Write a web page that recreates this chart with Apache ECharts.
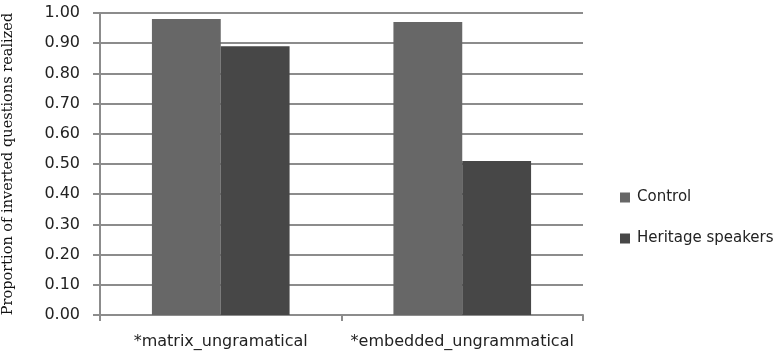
<!DOCTYPE html>
<html>
<head>
<meta charset="utf-8">
<script src="https://cdn.jsdelivr.net/npm/echarts@6/dist/echarts.min.js"></script>
<style>
  html, body { margin: 0; padding: 0; background: #fff; }
  #chart { width: 778px; height: 358px; }
</style>
</head>
<body>
<div id="chart"></div>
<script>
// Conditions on the x axis
const categories = ['*matrix_ungramatical', '*embedded_ungrammatical'];
// Proportion of inverted questions realized, per group
const controlValues = [0.98, 0.97];
const heritageValues = [0.89, 0.51];
const seriesNames = ['Control', 'Heritage speakers'];

const chart = echarts.init(document.getElementById('chart'), null, { renderer: 'canvas' });

const labelFont = '"DejaVu Sans", Verdana, sans-serif';
const gridGrey = '#8c8c8c';

chart.setOption({
  animation: false,
  backgroundColor: '#ffffff',
  grid: {
    left: 100, right: 195, top: 13, bottom: 43,
    containLabel: false,
    outerBoundsMode: 'none'
  },
  legend: {
    orient: 'vertical',
    left: 615,
    top: 185,
    itemWidth: 10,
    itemHeight: 10,
    itemGap: 26,
    icon: 'rect',
    textStyle: { fontFamily: labelFont, fontSize: 15, color: '#222', lineHeight: 15, padding: [0, 0, 0, 2] },
    data: seriesNames
  },
  xAxis: {
    type: 'category',
    data: categories,
    axisLine: { show: true, lineStyle: { color: gridGrey, width: 2 } },
    axisTick: { show: true, length: 6, lineStyle: { color: gridGrey, width: 2 } },
    axisLabel: {
      interval: 0, hideOverlap: false,
      fontFamily: labelFont, fontSize: 16, color: '#222', margin: 19
    }
  },
  yAxis: {
    type: 'value',
    min: 0,
    max: 1,
    interval: 0.1,
    name: 'Proportion of inverted questions realized',
    nameLocation: 'middle',
    nameRotate: 90,
    nameGap: 84,
    nameTextStyle: { fontFamily: '"DejaVu Serif", "Liberation Serif", serif', fontSize: 14.5, color: '#111' },
    axisLine: { show: true, lineStyle: { color: gridGrey, width: 2 } },
    axisTick: { show: true, length: 7, lineStyle: { color: gridGrey, width: 2 } },
    axisLabel: {
      fontFamily: labelFont, fontSize: 16, color: '#222', margin: 20,
      formatter: v => v.toFixed(2)
    },
    splitLine: { show: true, lineStyle: { color: gridGrey, width: 2 } }
  },
  series: [
    {
      name: seriesNames[0],
      type: 'bar',
      data: controlValues,
      barGap: '0%',
      barCategoryGap: '43%',
      itemStyle: { color: '#676767' }
    },
    {
      name: seriesNames[1],
      type: 'bar',
      data: heritageValues,
      itemStyle: { color: '#474747' }
    }
  ]
});
</script>
</body>
</html>
